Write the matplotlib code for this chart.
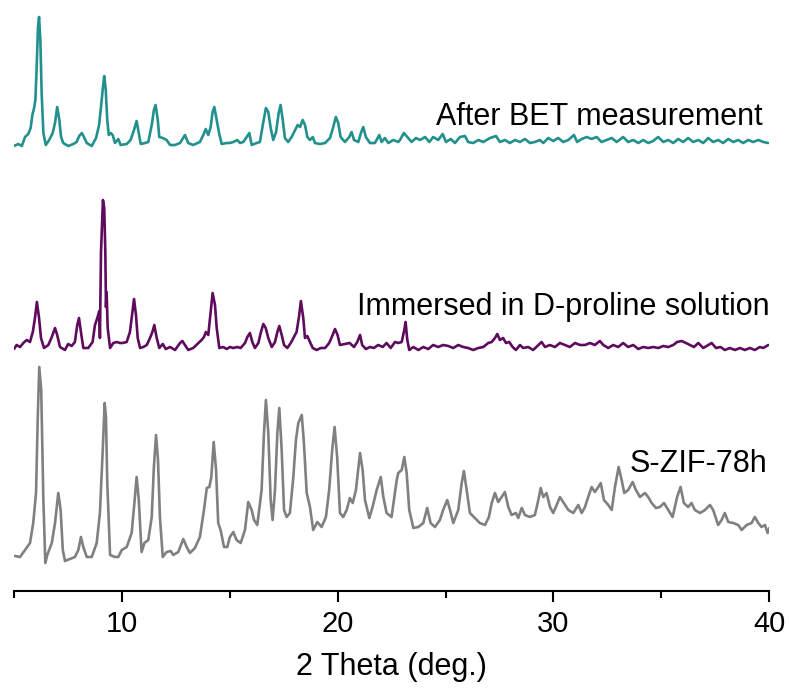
import matplotlib
matplotlib.use("Agg")
import matplotlib.pyplot as plt
from matplotlib.ticker import FixedLocator

plt.rcParams['font.family'] = ['Liberation Sans', 'DejaVu Sans']

# ---------------- data (2θ in degrees, intensity in a.u.) ----------------
gray_2theta = [5.06, 5.29, 5.52, 5.75, 5.90, 6.03, 6.11, 6.18, 6.27, 6.37, 6.46, 6.55, 6.76, 6.91,
               7.06, 7.17, 7.27, 7.37, 7.60, 7.83, 7.99, 8.11, 8.22, 8.38, 8.61, 8.84, 8.99, 9.12,
               9.21, 9.27, 9.33, 9.46, 9.69, 9.84, 10.00, 10.23, 10.46, 10.57, 10.69, 10.79, 10.92,
               11.05, 11.23, 11.39, 11.49, 11.59, 11.68, 11.77, 11.90, 12.08, 12.27, 12.39, 12.62,
               12.85, 13.01, 13.16, 13.39, 13.62, 13.81, 13.94, 14.06, 14.15, 14.26, 14.37, 14.47,
               14.58, 14.74, 14.89, 15.01, 15.17, 15.32, 15.51, 15.71, 15.86, 16.02, 16.13, 16.28,
               16.48, 16.59, 16.68, 16.79, 16.90, 16.99, 17.10, 17.21, 17.30, 17.41, 17.52, 17.64,
               17.79, 17.95, 18.07, 18.18, 18.34, 18.44, 18.57, 18.72, 18.87, 19.06, 19.26, 19.46,
               19.61, 19.75, 19.86, 19.98, 20.11, 20.26, 20.42, 20.57, 20.70, 20.85, 21.04, 21.16,
               21.27, 21.47, 21.62, 21.81, 22.00, 22.12, 22.27, 22.50, 22.74, 22.81, 22.97, 23.09,
               23.20, 23.32, 23.51, 23.74, 23.97, 24.15, 24.31, 24.51, 24.74, 24.89, 25.08, 25.21,
               25.36, 25.59, 25.75, 25.85, 25.98, 26.13, 26.36, 26.59, 26.83, 27.01, 27.14, 27.29,
               27.44, 27.60, 27.75, 27.91, 28.06, 28.26, 28.37, 28.53, 28.68, 28.91, 29.14, 29.30,
               29.41, 29.53, 29.68, 29.84, 29.99, 30.15, 30.30, 30.45, 30.69, 30.92, 31.15, 31.31,
               31.46, 31.61, 31.77, 31.92, 32.08, 32.19, 32.34, 32.54, 32.70, 32.85, 33.02, 33.16,
               33.28, 33.46, 33.67, 33.82, 34.01, 34.24, 34.39, 34.55, 34.75, 34.93, 35.12, 35.32,
               35.52, 35.73, 35.89, 36.04, 36.24, 36.40, 36.55, 36.79, 37.02, 37.25, 37.40, 37.63,
               37.79, 37.94, 38.10, 38.33, 38.56, 38.72, 38.95, 39.18, 39.33, 39.49, 39.64, 39.80,
               39.92, 40.00]
gray_int = [35, 34, 41, 48, 68, 98, 174, 224, 201, 91, 28, 36, 48, 68,
            98, 81, 41, 30, 32, 34, 41, 54, 44, 34, 34, 48, 78, 141,
            188, 174, 108, 36, 34, 34, 41, 44, 58, 84, 114, 91, 39,
            48, 51, 74, 124, 156, 131, 74, 34, 39, 40, 36, 39,
            52, 44, 38, 43, 54, 81, 103, 104, 114, 149, 121, 68,
            61, 44, 44, 54, 59, 51, 48, 61, 89, 81, 71, 66,
            101, 158, 191, 158, 91, 71, 101, 158, 183, 141, 81, 74,
            78, 114, 151, 168, 176, 148, 98, 84, 61, 69, 64, 74,
            101, 141, 164, 134, 78, 74, 81, 93, 88, 101, 138, 121,
            91, 73, 84, 101, 114, 94, 78, 74, 111, 118, 121, 134,
            118, 81, 63, 64, 68, 83, 68, 64, 71, 81, 91, 81,
            68, 81, 108, 120, 101, 78, 73, 68, 66, 74, 88, 98,
            89, 94, 99, 84, 76, 78, 73, 83, 76, 74, 76, 91,
            103, 94, 98, 84, 78, 86, 94, 89, 81, 78, 86, 78,
            84, 94, 104, 99, 104, 108, 91, 86, 81, 104, 124, 111,
            98, 101, 109, 101, 94, 98, 94, 88, 83, 84, 88, 81,
            74, 94, 104, 88, 84, 88, 81, 78, 81, 86, 81, 66,
            71, 78, 69, 68, 66, 61, 66, 68, 74, 68, 64, 66,
            58, 63]

purple_2theta = [5.01, 5.13, 5.29, 5.44, 5.60, 5.75, 5.88, 5.98, 6.07, 6.17, 6.26, 6.40, 6.60, 6.76,
                 6.91, 7.01, 7.14, 7.37, 7.52, 7.68, 7.83, 7.94, 8.02, 8.11, 8.22, 8.45, 8.65, 8.76,
                 8.87, 8.96, 8.99, 9.04, 9.09, 9.13, 9.19, 9.24, 9.27, 9.30, 9.35, 9.46, 9.61, 9.77,
                 9.92, 10.04, 10.23, 10.38, 10.48, 10.57, 10.66, 10.74, 10.85, 11.00, 11.16, 11.31,
                 11.42, 11.51, 11.62, 11.74, 11.90, 12.04, 12.24, 12.47, 12.70, 12.81, 12.93, 13.08,
                 13.31, 13.55, 13.70, 13.81, 13.90, 14.01, 14.12, 14.21, 14.32, 14.40, 14.52, 14.70,
                 14.86, 15.01, 15.17, 15.35, 15.51, 15.71, 15.82, 15.94, 16.05, 16.17, 16.33, 16.45,
                 16.56, 16.67, 16.79, 16.95, 17.10, 17.21, 17.30, 17.41, 17.52, 17.67, 17.83, 17.98,
                 18.10, 18.21, 18.30, 18.41, 18.49, 18.60, 18.72, 18.85, 19.03, 19.22, 19.42, 19.61,
                 19.77, 19.88, 20.00, 20.11, 20.34, 20.56, 20.76, 20.91, 21.04, 21.14, 21.31, 21.50,
                 21.68, 21.88, 22.09, 22.27, 22.46, 22.66, 22.81, 22.97, 23.09, 23.15, 23.23, 23.32,
                 23.51, 23.74, 23.97, 24.20, 24.43, 24.66, 24.89, 25.13, 25.36, 25.59, 25.82, 26.05,
                 26.28, 26.52, 26.75, 26.98, 27.14, 27.29, 27.40, 27.52, 27.67, 27.80, 27.95, 28.11,
                 28.26, 28.45, 28.60, 28.83, 29.06, 29.30, 29.45, 29.61, 29.83, 30.07, 30.30, 30.53,
                 30.76, 31.00, 31.23, 31.46, 31.69, 31.92, 32.15, 32.31, 32.54, 32.77, 33.00, 33.23,
                 33.46, 33.70, 33.93, 34.16, 34.39, 34.62, 34.85, 35.09, 35.32, 35.55, 35.73, 35.94,
                 36.14, 36.32, 36.51, 36.71, 36.94, 37.17, 37.33, 37.53, 37.74, 37.94, 38.17, 38.41,
                 38.64, 38.87, 39.10, 39.33, 39.56, 39.72, 39.95]
purple_int = [42, 46, 44, 48, 51, 49, 59, 73, 89, 73, 53, 43, 46, 54,
              63, 56, 44, 41, 47, 45, 49, 66, 73, 59, 43, 43, 49, 66,
              73, 80, 53, 139, 169, 191, 183, 139, 84, 99, 63, 43, 48, 49,
              48, 48, 49, 59, 76, 92, 76, 53, 43, 44, 46, 53,
              59, 66, 53, 43, 47, 42, 44, 41, 48, 50, 46, 41,
              43, 48, 51, 54, 59, 56, 79, 98, 86, 63, 43, 44,
              42, 44, 43, 44, 43, 48, 54, 58, 49, 43, 48, 59,
              67, 63, 53, 44, 49, 59, 65, 56, 46, 43, 48, 54,
              59, 74, 90, 73, 53, 55, 49, 43, 41, 43, 43, 48,
              56, 62, 56, 46, 47, 48, 44, 49, 56, 46, 42, 44,
              43, 46, 44, 48, 43, 49, 48, 49, 61, 69, 51, 41,
              44, 41, 44, 42, 46, 44, 46, 45, 43, 46, 44, 43,
              41, 43, 44, 48, 49, 53, 57, 51, 53, 48, 49, 44,
              41, 46, 43, 44, 41, 46, 49, 44, 46, 44, 48, 46,
              44, 48, 46, 46, 48, 46, 50, 46, 43, 46, 44, 48,
              44, 46, 42, 44, 43, 44, 43, 45, 44, 46, 49, 50,
              48, 46, 44, 48, 43, 46, 48, 43, 44, 41, 43, 41,
              43, 41, 43, 41, 44, 43, 46]

teal_2theta = [5.01, 5.21, 5.37, 5.52, 5.67, 5.78, 5.86, 5.94, 6.00, 6.06, 6.12, 6.17, 6.23, 6.29,
               6.37, 6.48, 6.64, 6.80, 6.91, 7.01, 7.11, 7.19, 7.29, 7.52, 7.76, 7.91, 8.03, 8.15,
               8.25, 8.38, 8.61, 8.81, 8.95, 9.04, 9.13, 9.19, 9.26, 9.33, 9.40, 9.49, 9.58, 9.69,
               9.84, 9.95, 10.23, 10.41, 10.57, 10.69, 10.79, 10.88, 11.08, 11.23, 11.39, 11.49,
               11.57, 11.67, 11.74, 11.90, 12.08, 12.24, 12.47, 12.70, 12.93, 13.08, 13.31, 13.62,
               13.78, 13.89, 14.01, 14.12, 14.21, 14.29, 14.40, 14.51, 14.63, 14.86, 15.01, 15.17,
               15.35, 15.48, 15.63, 15.79, 15.91, 16.02, 16.25, 16.40, 16.56, 16.68, 16.79, 16.90,
               17.02, 17.15, 17.27, 17.36, 17.46, 17.56, 17.71, 17.87, 18.03, 18.15, 18.26, 18.38,
               18.49, 18.60, 18.72, 18.85, 18.95, 19.18, 19.42, 19.65, 19.80, 19.92, 20.03, 20.14,
               20.34, 20.54, 20.65, 20.76, 20.96, 21.08, 21.19, 21.31, 21.50, 21.73, 21.93, 22.04,
               22.19, 22.35, 22.58, 22.81, 22.89, 23.07, 23.23, 23.43, 23.63, 23.82, 24.05, 24.25,
               24.43, 24.66, 24.87, 25.02, 25.24, 25.44, 25.67, 25.90, 26.05, 26.28, 26.52, 26.75,
               27.06, 27.34, 27.52, 27.75, 27.98, 28.22, 28.45, 28.68, 28.91, 29.14, 29.37, 29.53,
               29.76, 29.99, 30.22, 30.45, 30.69, 30.95, 31.10, 31.31, 31.54, 31.77, 32.00, 32.23,
               32.46, 32.70, 32.93, 33.23, 33.46, 33.70, 33.93, 34.16, 34.39, 34.62, 34.85, 35.09,
               35.32, 35.55, 35.78, 36.01, 36.24, 36.47, 36.71, 36.94, 37.17, 37.40, 37.63, 37.86,
               38.10, 38.33, 38.56, 38.79, 39.02, 39.25, 39.49, 39.72, 39.95]
teal_int = [45, 47, 45, 54, 57, 63, 76, 83, 91, 124, 164, 174, 151, 98,
            58, 46, 51, 58, 68, 84, 71, 54, 48, 45, 47, 49, 55, 58,
            54, 48, 45, 53, 66, 84, 104, 115, 101, 71, 56, 58, 56, 48,
            52, 46, 47, 51, 61, 70, 58, 47, 48, 49, 66, 81,
            86, 71, 54, 53, 51, 46, 46, 48, 56, 48, 46, 49,
            56, 62, 56, 64, 79, 84, 71, 58, 47, 48, 48, 49,
            51, 48, 49, 54, 58, 46, 48, 49, 69, 83, 79, 63,
            51, 59, 78, 86, 71, 53, 49, 54, 61, 66, 64, 71,
            66, 54, 51, 54, 48, 47, 48, 53, 64, 74, 68, 54,
            49, 54, 59, 51, 49, 58, 64, 54, 48, 48, 56, 49,
            53, 48, 51, 49, 51, 58, 54, 49, 53, 51, 54, 49,
            54, 51, 57, 49, 52, 48, 54, 55, 49, 48, 51, 49,
            53, 55, 49, 51, 48, 51, 49, 52, 48, 49, 51, 48,
            53, 50, 53, 49, 51, 56, 49, 52, 54, 52, 54, 49,
            51, 53, 49, 54, 49, 51, 48, 51, 48, 50, 54, 49,
            51, 48, 52, 49, 53, 49, 51, 48, 53, 49, 51, 48,
            52, 49, 51, 48, 51, 49, 51, 49, 48]

offsets = [0, 200, 400]
labels = ["S-ZIF-78h", "Immersed in D-proline solution", "After BET measurement"]
colors = ["#808080", "#5e0b5e", "#22908c"]
major_ticks = [10, 20, 30, 40]
minor_ticks = [5, 15, 25, 35]

# ---------------- figure ----------------
fig = plt.figure(figsize=(7.89, 6.95), dpi=100)
ax = fig.add_axes([13.8 / 789, 104 / 695, (769.3 - 13.8) / 789, 591 / 695])

series = [(gray_2theta, gray_int), (purple_2theta, purple_int), (teal_2theta, teal_int)]
for (xs, ys), off, col in zip(series, offsets, colors):
    ax.plot(xs, [v + off for v in ys], color=col, lw=1.9,
            solid_joinstyle='round', solid_capstyle='round')

ax.text(39.93, 119, labels[0], ha='right', va='baseline', fontsize=22)
ax.text(40.03, 276, labels[1], ha='right', va='baseline', fontsize=22)
ax.text(39.70, 466, labels[2], ha='right', va='baseline', fontsize=22)

ax.set_xlim(5, 40)
ax.set_ylim(0, 591)
for s in ['top', 'left', 'right']:
    ax.spines[s].set_visible(False)
ax.spines['bottom'].set_linewidth(1.5)
ax.set_yticks([])
ax.xaxis.set_major_locator(FixedLocator(major_ticks))
ax.xaxis.set_minor_locator(FixedLocator(minor_ticks))
ax.tick_params(axis='x', which='major', direction='out', length=8, width=1.5,
               labelsize=21, pad=6)
ax.tick_params(axis='x', which='minor', direction='out', length=5, width=1.5)
ax.set_xlabel("2 Theta (deg.)", fontsize=22, labelpad=10)
ax.patch.set_alpha(0)

fig.savefig("out.png", dpi=100)
